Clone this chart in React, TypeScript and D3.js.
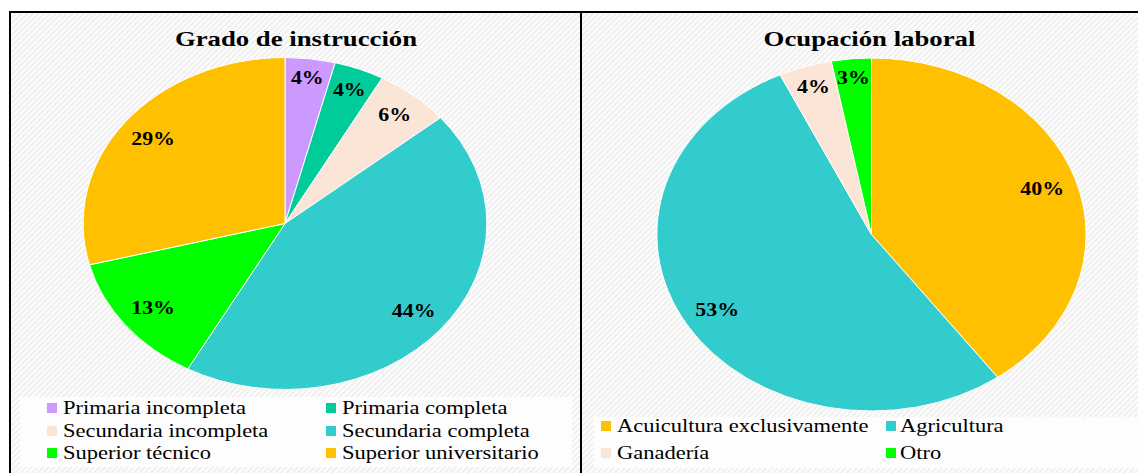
import React from "react";
import * as d3 from "d3";

const gradoCategories = [
  "Primaria incompleta",
  "Primaria completa",
  "Secundaria incompleta",
  "Secundaria completa",
  "Superior técnico",
  "Superior universitario",
];
const gradoValues = [4, 4, 6, 44, 13, 29];
const gradoColors = ["#CC99FF", "#00CC99", "#FBE5D6", "#33CCCC", "#00FF00", "#FFC000"];

const ocupCategories = ["Acuicultura exclusivamente", "Agricultura", "Ganadería", "Otro"];
const ocupValues = [40, 53, 4, 3];
const ocupColors = ["#FFC000", "#33CCCC", "#FBE5D6", "#00FF00"];

const W = 1138;
const H = 473;
const SX = 1.216; // horizontal stretch of the whole picture
const FONT = "'Liberation Serif', 'Times New Roman', serif";

type PieProps = {
  title: string;
  titleX: number;
  cx: number;
  cy: number;
  r: number;
  values: number[];
  colors: string[];
};

function Pie({ title, titleX, cx, cy, r, values, colors }: PieProps) {
  const pie = d3.pie<number>().sort(null).value((d) => d);
  const arcs = pie(values);
  const arc = d3.arc<d3.PieArcDatum<number>>().innerRadius(0).outerRadius(r);
  const fs = 18;
  return (
    <g>
      <text
        x={titleX / SX}
        y={46}
        textAnchor="middle"
        fontFamily={FONT}
        fontWeight="bold"
        fontSize={22}
        fill="#000"
      >
        {title}
      </text>
      <g transform={`translate(${cx / SX},${cy})`}>
        {arcs.map((a, i) => (
          <path
            key={i}
            d={arc(a) || ""}
            fill={colors[i]}
            stroke="#fff"
            strokeWidth={1}
            vectorEffect="non-scaling-stroke"
          />
        ))}
        {arcs.map((a, i) => {
          const th = (a.startAngle + a.endAngle) / 2;
          const label = `${a.data}%`;
          const w = fs * (String(a.data).length * 0.5 + 1);
          const ext = Math.abs(Math.sin(th)) * (w / 2) + Math.abs(Math.cos(th)) * 9;
          const d = r - 9 - ext;
          const x = Math.sin(th) * d;
          const y = -Math.cos(th) * d;
          return (
            <text
              key={"l" + i}
              x={x}
              y={y + 6}
              textAnchor="middle"
              fontFamily={FONT}
              fontWeight="bold"
              fontSize={fs}
              fill="#000"
            >
              {label}
            </text>
          );
        })}
      </g>
    </g>
  );
}

type LegendItem = { label: string; color: string; sqX: number; textX: number; baseline: number };

function Legend({ items }: { items: LegendItem[] }) {
  return (
    <g>
      {items.map((it, i) => (
        <g key={i}>
          <rect x={it.sqX / SX} y={it.baseline - 11} width={10 / SX} height={10} fill={it.color} />
          <text
            x={it.textX / SX}
            y={it.baseline}
            fontFamily={FONT}
            fontSize={18.5}
            fill="#000"
          >
            {it.label}
          </text>
        </g>
      ))}
    </g>
  );
}

export default function App() {
  const leftCols = [47, 326];
  const leftText = [63, 342];
  const leftRows = [414, 437, 459];
  const leftItems: LegendItem[] = gradoCategories.map((c, i) => ({
    label: c,
    color: gradoColors[i],
    sqX: leftCols[i % 2],
    textX: leftText[i % 2],
    baseline: leftRows[Math.floor(i / 2)],
  }));
  const rightCols = [601, 886];
  const rightText = [617, 900];
  const rightRows = [432, 459];
  const rightItems: LegendItem[] = ocupCategories.map((c, i) => ({
    label: c,
    color: ocupColors[i],
    sqX: rightCols[i % 2],
    textX: rightText[i % 2],
    baseline: rightRows[Math.floor(i / 2)],
  }));

  return (
    <div style={{ position: "fixed", left: 0, top: 0, width: W, height: H, background: "#fff" }}>
      <svg width={W} height={H} viewBox={`0 0 ${W} ${H}`} style={{ display: "block" }}>
        <defs>
          <pattern id="hatch" width="4" height="4" patternUnits="userSpaceOnUse" patternTransform="rotate(45)">
            <rect width="4" height="4" fill="#fdfdfd" />
            <rect width="1.6" height="4" fill="#ededed" />
          </pattern>
        </defs>
        <rect x={0} y={0} width={W} height={H} fill="#fff" />
        <rect x={10} y={12} width={W - 10} height={H - 12} fill="url(#hatch)" />
        <rect x={20} y={397} width={552} height={70} fill="#fdfdfd" />
        <rect x={594} y={417} width={W - 594} height={51} fill="#fdfdfd" />
        <line x1={9} y1={12} x2={W} y2={12} stroke="#000" strokeWidth={2} />
        <line x1={10} y1={11} x2={10} y2={H} stroke="#000" strokeWidth={2} />
        <line x1={581} y1={11} x2={581} y2={H} stroke="#000" strokeWidth={2} />
        <g transform={`scale(${SX},1)`}>
          <Pie
            title="Grado de instrucción"
            titleX={296}
            cx={285}
            cy={223.5}
            r={166}
            values={gradoValues}
            colors={gradoColors}
          />
          <Pie
            title="Ocupación laboral"
            titleX={869.5}
            cx={871.5}
            cy={234.5}
            r={176.5}
            values={ocupValues}
            colors={ocupColors}
          />
          <Legend items={leftItems} />
          <Legend items={rightItems} />
        </g>
      </svg>
    </div>
  );
}
